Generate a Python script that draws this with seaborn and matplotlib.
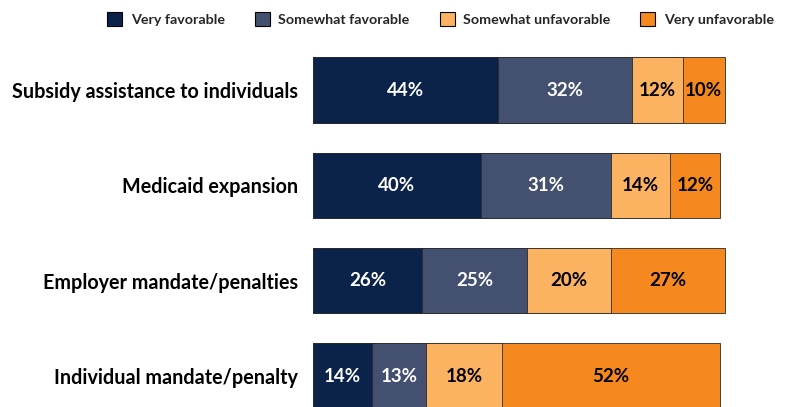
import matplotlib
matplotlib.use("Agg")
import matplotlib.pyplot as plt
import seaborn as sns
import pandas as pd
import numpy as np
from matplotlib.patches import Patch

categories = ["Subsidy assistance to individuals", "Medicaid expansion",
              "Employer mandate/penalties", "Individual mandate/penalty"]
series = ["Very favorable", "Somewhat favorable", "Somewhat unfavorable", "Very unfavorable"]
very_fav = [44, 40, 26, 14]
somewhat_fav = [32, 31, 25, 13]
somewhat_unfav = [12, 14, 20, 18]
very_unfav = [10, 12, 27, 52]

colors = ["#0B234B", "#445070", "#FBB261", "#F5891F"]
text_colors = ["white", "white", "black", "black"]

sns.set_theme(style="white")
plt.rcParams['font.family'] = ['Lato', 'DejaVu Sans']

fig = plt.figure(figsize=(7.96, 4.07), dpi=100)
ax = fig.add_axes([313 / 796, 0, 420 / 796, 367 / 407])

values = np.array([very_fav, somewhat_fav, somewhat_unfav, very_unfav])
cum = np.cumsum(values, axis=0)

for i in reversed(range(len(series))):
    df = pd.DataFrame({"category": categories, "value": cum[i]})
    sns.barplot(data=df, x="value", y="category", orient="h", color=colors[i],
                saturation=1, width=0.687, edgecolor="#2b2b2b", linewidth=0.6,
                ax=ax, errorbar=None)

for i in range(len(series)):
    for j in range(len(categories)):
        v = values[i, j]
        c = cum[i, j] - v / 2
        ax.text(c, j, f"{v}%", ha="center", va="center", fontsize=13.5,
                fontweight="bold", color=text_colors[i])

ax.set_xlim(0, 100)
ax.set_ylim(3.325, -0.5245)
ax.set_xlabel("")
ax.set_ylabel("")
ax.set_xticks([])
for s in ax.spines.values():
    s.set_visible(False)
ax.tick_params(axis="y", length=0, pad=11)
for lbl in ax.get_yticklabels():
    lbl.set_fontsize(14.2)
    lbl.set_fontweight("bold")
    lbl.set_color("black")

handles = [Patch(facecolor=colors[i], edgecolor="black", linewidth=0.8, label=series[i])
           for i in range(len(series))]
leg = fig.legend(handles=handles, loc="center left", bbox_to_anchor=(107 / 796, 1 - 19 / 407),
                 ncol=4, frameon=False, fontsize=10.3, handlelength=1.05, handleheight=1.05,
                 columnspacing=2.1, handletextpad=0.6, borderpad=0, borderaxespad=0)
for t in leg.get_texts():
    t.set_fontweight("bold")

fig.savefig("out.png", dpi=100)
